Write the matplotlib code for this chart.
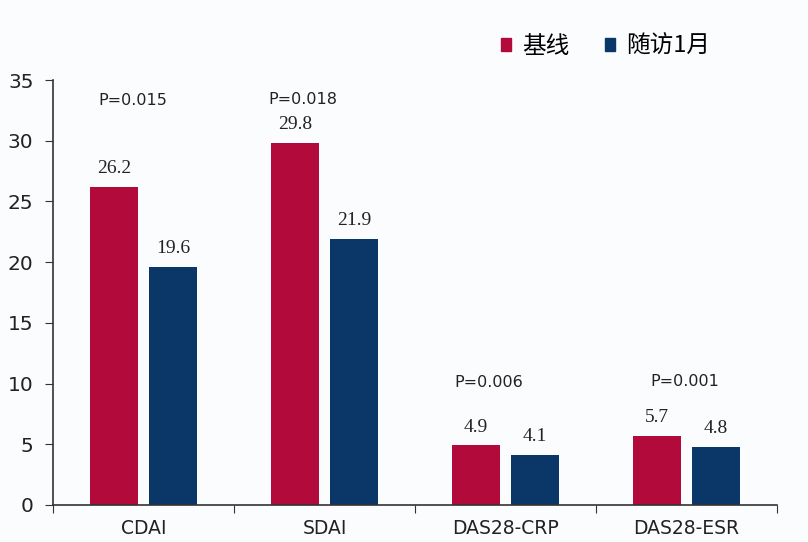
import matplotlib

matplotlib.use("Agg")
import matplotlib.pyplot as plt
import numpy as np
from matplotlib.patches import Patch

categories = ["CDAI", "SDAI", "DAS28-CRP", "DAS28-ESR"]
baseline = [26.2, 29.8, 4.9, 5.7]
followup = [19.6, 21.9, 4.1, 4.8]
p_labels = ["P=0.015", "P=0.018", "P=0.006", "P=0.001"]
p_x = [-0.06, -0.12, -0.09, -0.01]
p_y = [33.3, 33.4, 10.1, 10.2]
series_names = ["基线", "随访1月"]
yticks = [0, 5, 10, 15, 20, 25, 30, 35]

RED = "#B20A3A"
NAVY = "#0B3768"

plt.rcParams["font.family"] = ["Noto Sans CJK SC", "DejaVu Sans"]

fig = plt.figure(figsize=(8.08, 5.42), dpi=100, facecolor="#fbfcfe")
ax = fig.add_axes([0.0656, 0.0683, 0.896, 0.784])
ax.set_facecolor("none")

x = np.arange(len(categories))
w = 0.265
off = 0.163
ax.bar(x - off, baseline, w, color=RED)
ax.bar(x + off, followup, w, color=NAVY)

for xi, b, f in zip(x, baseline, followup):
    ax.text(xi - off, b + 0.8, f"{b:.1f}", ha="center", va="bottom",
            family="Liberation Serif", fontsize=14, color="#222222")
    ax.text(xi + off, f + 0.8, f"{f:.1f}", ha="center", va="bottom",
            family="Liberation Serif", fontsize=14, color="#222222")

for xi, lab, dx, py in zip(x, p_labels, p_x, p_y):
    ax.text(xi + dx, py, lab, ha="center", va="center",
            family="DejaVu Sans", fontsize=11.5, color="#222222")

ax.set_xlim(-0.5, 3.5)
ax.set_ylim(0, 35)
ax.set_yticks(yticks)
ax.set_yticklabels([str(v) for v in yticks], family="DejaVu Sans", fontsize=14.5, color="#222222")
ax.set_xticks(np.arange(-0.5, 4, 1.0))
ax.set_xticklabels([])
ax.set_xticks(x, minor=True)
ax.set_xticklabels(categories, minor=True, family="DejaVu Sans", fontsize=13.5, color="#222222")
ax.tick_params(axis="x", which="minor", length=0, pad=10)
ax.tick_params(axis="x", which="major", length=6, color="#333333")
ax.tick_params(axis="y", length=6, color="#333333", pad=8)

for s in ["top", "right"]:
    ax.spines[s].set_visible(False)
for s in ["left", "bottom"]:
    ax.spines[s].set_color("#333333")
    ax.spines[s].set_linewidth(1.2)

handles = [Patch(color=RED), Patch(color=NAVY)]
fig.legend(handles, series_names, loc="center", bbox_to_anchor=(0.749, 0.915),
           ncol=2, frameon=False, fontsize=17, handlelength=0.45, handleheight=0.45,
           handletextpad=0.45, columnspacing=1.5)

fig.savefig("out.png", dpi=100, facecolor=fig.get_facecolor())
